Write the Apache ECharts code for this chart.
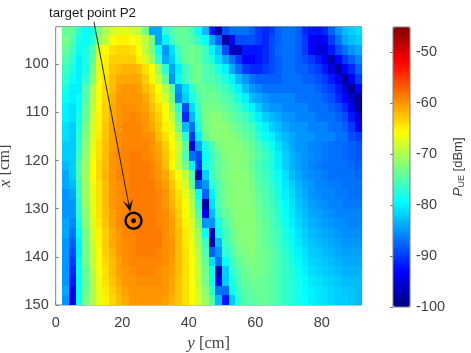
<!DOCTYPE html>
<html>
<head>
<meta charset="utf-8">
<script src="https://cdn.jsdelivr.net/npm/echarts@6/dist/echarts.min.js"></script>
<style>
html, body { margin: 0; padding: 0; background: #fff; }
#main { width: 471px; height: 353px; }
</style>
</head>
<body>
<div id="main"></div>
<script>
// cell centres, cm
var yCm = [3, 5, 7, 9, 11, 13, 15, 17, 19, 21, 23, 25, 27, 29, 31, 33, 35, 37, 39, 41, 43, 45, 47, 49, 51, 53, 55, 57, 59, 61, 63, 65, 67, 69, 71, 73, 75, 77, 79, 81, 83, 85, 87, 89, 91];
var xCm = [93, 95, 97, 99, 101, 103, 105, 107, 109, 111, 113, 115, 117, 119, 121, 123, 125, 127, 129, 131, 133, 135, 137, 139, 141, 143, 145, 147, 149];

// received power per row (one row per xCm), dBm
var pueRows = [
    [-74, -74, -77, -79, -78, -73, -70, -68, -67, -67, -68, -69, -73, -84, -84, -77, -75, -74, -74, -76, -79, -83, -92, -98, -89, -87, -87, -87, -88, -90, -91, -90, -88, -87, -87, -88, -91, -92, -92, -91, -88, -85, -83, -82, -81],
    [-73, -75, -78, -79, -77, -72, -69, -66, -65, -65, -66, -67, -69, -73, -84, -80, -76, -74, -74, -75, -77, -79, -84, -88, -98, -93, -89, -89, -89, -90, -91, -89, -88, -87, -87, -88, -90, -93, -94, -93, -90, -87, -84, -83, -82],
    [-74, -76, -79, -78, -75, -68, -65.5, -64, -63.5, -63.5, -64, -65.5, -69, -73, -79, -85, -81, -76, -74, -73, -74, -76, -80, -83, -89, -97, -97, -92, -92, -92, -91, -89, -87.5, -87, -87, -88, -90, -93, -95, -95, -92, -89, -87, -85, -84],
    [-75, -77, -80, -78, -74, -67, -65, -63, -63, -63, -63, -65, -67.5, -71, -77, -84, -82, -77, -74, -73, -74, -76, -78, -81, -84, -87, -90, -93, -93, -92, -91, -89, -88, -87, -87, -88, -89, -90, -92, -94, -97, -93, -90, -88, -86],
    [-76, -78, -80, -78, -73, -67, -64.5, -62.5, -62, -61.5, -61.5, -62, -64, -65.5, -71, -77, -84, -80, -76, -74, -73, -75, -76, -78, -80, -84, -87, -90, -91, -91, -90, -89, -88, -87, -87, -88, -88, -89, -90, -92, -95, -98, -93, -91, -88],
    [-77, -79, -80, -77, -72, -66.5, -64, -62, -61, -61, -61, -61, -63, -65.5, -69, -74, -85, -79, -76, -74, -73, -75, -75, -76, -78, -80, -83, -85, -87, -88, -88, -88, -88, -87, -87, -87, -88, -88, -89, -90, -92, -94, -98, -94, -90],
    [-78, -80, -80, -75, -70, -66, -63.5, -62, -60.5, -60, -60, -60.5, -62, -63.5, -66, -69.5, -75, -85, -81, -77, -74, -74, -74, -75, -76, -78, -80, -83, -85, -86, -87, -87, -87, -87, -87, -87, -87, -87, -88, -89, -90, -92, -95, -99, -93],
    [-79, -80, -79, -75, -69.5, -66, -63.5, -61.5, -60, -60, -60, -60, -61, -63, -65, -68, -73, -86, -82, -78, -75, -74, -73, -74, -75, -76, -78, -80, -83, -84, -85, -86, -86, -86, -86, -87, -87, -87, -87, -88, -89, -91, -93, -96, -99],
    [-80, -81, -79, -74, -69, -65.5, -63, -61, -60, -59.5, -59.5, -60, -60.5, -62, -64, -66, -71, -77, -89, -81, -76, -73, -73, -73, -74, -75, -76, -78, -80, -82, -84, -85, -85, -86, -86, -86, -86, -87, -87, -87, -88, -89, -91, -94, -99],
    [-80, -81, -78, -74, -68.5, -65, -63, -61, -60, -59.5, -59, -59.5, -60, -61.5, -63, -65.5, -69, -75, -91, -83, -77, -73, -72, -72, -73, -74, -75, -76, -78, -80, -82, -83, -84, -85, -85, -86, -86, -86, -87, -87, -87, -88, -89, -92, -96],
    [-81, -82, -78, -73, -68, -65, -62.5, -60.5, -60, -59, -59, -59, -60, -61, -62.5, -65, -67.5, -73, -83, -87, -78, -73, -72, -72, -72, -73, -74, -75, -76, -78, -80, -82, -83, -84, -85, -85, -85, -86, -86, -86, -87, -87, -88, -90, -94],
    [-81, -82, -77, -72.5, -67.5, -64.5, -62.5, -60.5, -59.5, -59, -59, -59, -59.5, -60, -62, -64, -66.5, -70, -77, -90, -80, -74, -72, -72, -72, -72, -73, -74, -75, -77, -79, -80, -82, -83, -84, -85, -85, -85, -86, -86, -86, -87, -87, -89, -90],
    [-82, -82, -77, -72, -67, -64, -62, -60.5, -59.5, -59, -59, -59, -59, -60, -61, -63, -65.5, -68.5, -74, -95, -84, -78, -75, -73, -72, -72, -72, -73, -74, -75.5, -77, -79, -81, -82.5, -84, -85, -85, -86, -86, -86.5, -87, -87, -87.5, -88, -88.5],
    [-82, -82, -76, -71.5, -66.5, -64, -62, -60, -59, -59, -58.5, -58.5, -59, -59.5, -60.5, -62.5, -65, -69, -75, -87, -89, -79, -76, -74, -72.5, -72, -72, -72.5, -73.5, -75, -76, -78, -80, -82, -83.5, -84.5, -85, -85.5, -86, -86.5, -87, -87, -87.5, -88, -88.5],
    [-83, -82, -75, -71, -66, -63.5, -62, -60, -59.5, -59, -58.5, -58.5, -58.5, -59, -60, -62, -65.5, -69, -73, -80, -90, -78, -76, -74, -73, -72, -72, -72.5, -74, -75.5, -76.5, -78, -80, -82, -83.5, -84.5, -85, -86, -86.5, -87, -87, -87, -87, -87.5, -88],
    [-84, -82, -75, -71, -66, -63.5, -61.5, -60, -59, -59, -58.5, -58.5, -58.5, -59, -60, -61, -63.5, -66, -69, -75, -97, -82, -76, -74, -72.5, -72, -72, -72, -73.5, -75, -76, -77.5, -79, -81, -83, -84, -85, -85.5, -86, -86.5, -87, -87, -87, -87, -87.5],
    [-84, -83, -76, -71, -66.5, -64, -62, -60, -59.5, -59, -58.5, -58.5, -58.5, -58.5, -59.5, -60.5, -62.5, -65, -68, -74, -88, -85, -77, -75, -73, -72, -72, -72, -73, -74.5, -75.5, -77, -78.5, -80.5, -82, -83.5, -84.5, -85, -86, -86, -86.5, -86.5, -87, -87, -87],
    [-85, -84, -76, -71, -67, -64, -62, -60, -59.5, -59, -58.5, -58.5, -58.5, -58.5, -59, -60, -62, -64, -67, -71, -79, -88, -80, -75, -73, -72, -72, -72, -72.5, -74, -75, -76.5, -78, -80, -81.5, -83, -84, -85, -85.5, -86, -86, -86.5, -86.5, -87, -87],
    [-85, -85, -77, -71, -67, -64, -62, -60, -59.5, -59, -58.5, -58.5, -58.5, -58.5, -59, -60, -61.5, -63.5, -66, -70, -77, -98, -81, -75, -73, -72, -72, -72, -72.5, -73.5, -75, -76, -77.5, -79.5, -81, -82.5, -83.5, -84.5, -85, -85.5, -86, -86, -86.5, -86.5, -86.5],
    [-85, -85, -77, -72, -67, -64, -62, -60.5, -59.5, -59, -58.5, -58.5, -58.5, -58.5, -59, -59.5, -61, -63, -65.5, -69, -75, -94, -83, -76, -74, -72.5, -72, -72, -72, -73.5, -74.5, -75.5, -77, -79, -80.5, -82, -83, -84, -84.5, -85, -85.5, -86, -86, -86, -86],
    [-84, -86, -78, -72, -67.5, -64.5, -62.5, -60.5, -59.5, -59, -58.5, -58.5, -58.5, -58.5, -59, -59.5, -60.5, -62.5, -65, -68, -73, -85, -85, -78, -75, -73, -72, -72, -72, -73, -74, -75.5, -76.5, -78.5, -80, -81.5, -82.5, -83.5, -84, -84.5, -85, -85.5, -85.5, -86, -86],
    [-84, -87, -79, -73, -68, -65, -63, -61, -60, -59, -59, -58.5, -58.5, -58.5, -58.5, -59.5, -60.5, -62, -64.5, -67.5, -71, -79, -96, -79, -76, -73.5, -72.5, -72, -72, -73, -74, -75, -76, -78, -79.5, -81, -82, -83, -83.5, -84, -84.5, -85, -85.5, -85.5, -85.5],
    [-85, -88, -80, -73, -68.5, -65, -63, -61, -60, -59.5, -59, -58.5, -58.5, -58.5, -58.5, -59.5, -60, -62, -64.5, -67, -71, -76, -98, -83, -76, -74, -72.5, -72, -72, -73, -74, -75, -76, -77.5, -79, -80.5, -81.5, -82.5, -83, -83.5, -84, -84.5, -85, -85, -85],
    [-85, -89, -80, -73, -69, -65.5, -63, -61.5, -60, -59.5, -59, -58.5, -58.5, -58.5, -59, -59.5, -60, -62, -64, -66.5, -70, -75, -88, -85, -77, -75, -73, -72.5, -72, -73, -73.5, -74.5, -75.5, -77, -78.5, -80, -81, -82, -82.5, -83, -83.5, -84, -84.5, -84.5, -84.5],
    [-85, -90, -79, -73, -69, -66, -63.5, -62, -60.5, -59.5, -59, -59, -59, -59, -59, -59.5, -60.5, -62, -64, -66, -69.5, -74, -81, -87, -79, -76, -74, -73, -72.5, -73, -73.5, -74.5, -75.5, -76.5, -78, -79.5, -80.5, -81.5, -82, -82.5, -83, -83.5, -84, -84, -84],
    [-85, -91, -79, -74, -69.5, -66, -64, -62, -60.5, -60, -59.5, -59, -59, -59, -59.5, -60, -60.5, -62, -64, -66, -69, -73, -79, -98, -82, -77, -75, -73.5, -73, -73, -73.5, -74.5, -75.5, -76.5, -77.5, -79, -80, -81, -81.5, -82, -82.5, -83, -83.5, -83.5, -83.5],
    [-85, -92, -79, -74, -70, -66.5, -64, -62.5, -61, -60, -60, -59.5, -59.5, -59.5, -59.5, -60, -61, -62.5, -64, -66, -69, -73, -78, -94, -82, -78, -75.5, -74, -73.5, -73.5, -74, -74.5, -75.5, -76.5, -77.5, -78.5, -79.5, -80.5, -81, -81.5, -82, -82.5, -83, -83, -83],
    [-84, -94, -79, -74, -70, -67, -64.5, -63, -61.5, -60.5, -60, -60, -60, -60, -60, -60, -61, -62.5, -64, -65.5, -68.5, -72, -77, -87, -87, -79, -76, -74.5, -74, -73.5, -74, -74.5, -75.5, -76.5, -77.5, -78.5, -79.5, -80, -80.5, -81, -81.5, -82, -82.5, -82.5, -83],
    [-85, -94, -79, -73, -70, -67, -65, -63.5, -62, -61, -60, -60, -60, -60, -60, -60.5, -61.5, -62.5, -64, -65.5, -68, -71, -75, -83, -92, -82, -77, -75, -74.5, -74, -74, -74.5, -75.5, -76.5, -77.5, -78.5, -79, -80, -80.5, -81, -81.5, -82, -82, -82.5, -83]
];

var xTicks = [100, 110, 120, 130, 140, 150];
var yTicks = [0, 20, 40, 60, 80];
var barTicks = [-100, -90, -80, -70, -60, -50];
var jetColors = ['#00007f', '#0000ff', '#007fff', '#00ffff', '#7fff7f', '#ffff00', '#ff7f00', '#ff0000', '#7f0000'];

// annotation, [y, x] in cm
var targetPoint = [23.4, 132.5];
var arrowStart = [11.5, 91.2];
var arrowEnd = [22.4, 130.7];
var targetLabel = 'target point P2';

var cells = [];
for (var r = 0; r < xCm.length; r++) {
    for (var c = 0; c < yCm.length; c++) {
        cells.push([yCm[c], xCm[r], pueRows[r][c]]);
    }
}

function renderCell(params, api) {
    var a = api.coord([api.value(0) - 1, api.value(1) - 1]);
    var b = api.coord([api.value(0) + 1, api.value(1) + 1]);
    // round the edges so neighbouring cells leave no seams
    var x0 = Math.round(a[0]), y0 = Math.round(a[1]);
    return {
        type: 'rect',
        shape: { x: x0, y: y0, width: Math.round(b[0]) - x0, height: Math.round(b[1]) - y0 },
        style: { fill: api.visual('color') }
    };
}

function renderTarget(params, api) {
    var from = api.coord(arrowStart);
    var to = api.coord(arrowEnd);
    var mid = api.coord(targetPoint);
    var ang = Math.atan2(to[1] - from[1], to[0] - from[0]);
    var ux = Math.cos(ang), uy = Math.sin(ang);
    return {
        type: 'group',
        children: [
            { type: 'line', shape: { x1: from[0], y1: from[1], x2: to[0] - ux * 6, y2: to[1] - uy * 6 }, style: { stroke: '#111', lineWidth: 0.9 } },
            {
                type: 'polygon',
                shape: {
                    points: [
                        [to[0], to[1]],
                        [to[0] - ux * 12 - uy * 5, to[1] - uy * 12 + ux * 5],
                        [to[0] - ux * 7, to[1] - uy * 7],
                        [to[0] - ux * 12 + uy * 5, to[1] - uy * 12 - ux * 5]
                    ]
                },
                style: { fill: '#111' }
            },
            { type: 'circle', shape: { cx: mid[0], cy: mid[1], r: 8 }, style: { fill: 'none', stroke: '#000', lineWidth: 2.4 } },
            { type: 'circle', shape: { cx: mid[0], cy: mid[1], r: 2.4 }, style: { fill: '#000' } },
            {
                type: 'text',
                style: { x: from[0] - 45, y: from[1] - 8.5, text: targetLabel, fill: '#1a1a1a', font: '13.4px "Liberation Sans"', textVerticalAlign: 'middle' }
            }
        ]
    };
}

var myChart = echarts.init(document.getElementById('main'));

var option = {
    animation: false,
    backgroundColor: '#fff',
    textStyle: { fontFamily: 'Liberation Sans' },
    grid: [
        { left: 55.7, top: 26.7, width: 306, height: 278.3, show: true, borderColor: '#808080', borderWidth: 1, outerBoundsMode: 'none' },
        { left: 393, top: 27, width: 17, height: 280, show: true, z: 10, backgroundColor: 'transparent', borderColor: '#808080', borderWidth: 1, outerBoundsMode: 'none' }
    ],
    xAxis: [
        {
            type: 'value', gridIndex: 0, min: 0, max: 92,
            splitLine: { show: false },
            axisLine: { show: false },
            axisTick: { inside: true, length: 3, lineStyle: { color: '#808080' }, customValues: yTicks },
            axisLabel: { fontSize: 14.5, color: '#404040', margin: 10, customValues: yTicks },
            name: '{i|y} [cm]',
            nameLocation: 'middle',
            nameGap: 29,
            nameTextStyle: {
                fontFamily: 'Liberation Serif', fontSize: 16.5, color: '#444',
                rich: { i: { fontFamily: 'Liberation Serif', fontStyle: 'italic', fontSize: 17, color: '#444' } }
            }
        },
        { type: 'value', gridIndex: 1, min: 0, max: 1, show: false }
    ],
    yAxis: [
        {
            type: 'value', gridIndex: 0, inverse: true, min: 92.2, max: 150,
            splitLine: { show: false },
            axisLine: { show: false },
            axisTick: { inside: true, length: 3, lineStyle: { color: '#808080' }, customValues: xTicks },
            axisLabel: { fontSize: 14.5, color: '#404040', margin: 7, customValues: xTicks },
            name: '{i|x} [cm]',
            nameLocation: 'middle',
            nameGap: 30,
            nameRotate: 90,
            nameTextStyle: {
                fontFamily: 'Liberation Serif', fontSize: 16.5, color: '#444',
                rich: { i: { fontFamily: 'Liberation Serif', fontStyle: 'italic', fontSize: 17, color: '#444' } }
            }
        },
        {
            type: 'value', gridIndex: 1, position: 'right', min: -100, max: -45, z: 11,
            splitLine: { show: false },
            axisLine: { show: false },
            axisTick: { inside: true, length: 3, lineStyle: { color: '#808080' }, customValues: barTicks },
            axisLabel: { fontSize: 14.5, color: '#404040', margin: 6, customValues: barTicks },
            name: '{p|P}{s|UE} [dBm]',
            nameLocation: 'middle',
            nameGap: 41,
            nameRotate: 90,
            nameTextStyle: {
                fontSize: 13, color: '#404040',
                rich: {
                    p: { fontStyle: 'italic', fontSize: 13.5, color: '#404040' },
                    s: { fontSize: 9, color: '#404040', verticalAlign: 'bottom', padding: [6, 0, 0, 0] }
                }
            }
        }
    ],
    visualMap: {
        type: 'continuous',
        seriesIndex: 0,
        dimension: 2,
        min: -100,
        max: -45,
        calculable: false,
        show: true,
        text: null,
        showLabel: false,
        padding: 0,
        left: 393,
        top: 27,
        itemWidth: 17,
        itemHeight: 280,
        inRange: { color: jetColors }
    },
    series: [
        {
            type: 'custom',
            coordinateSystem: 'cartesian2d',
            xAxisIndex: 0,
            yAxisIndex: 0,
            encode: { x: 0, y: 1 },
            data: cells,
            clip: true,
            renderItem: renderCell,
            silent: true
        },
        {
            type: 'custom',
            coordinateSystem: 'cartesian2d',
            xAxisIndex: 0,
            yAxisIndex: 0,
            z: 5,
            data: [targetPoint],
            renderItem: renderTarget,
            silent: true
        }
    ]
};

myChart.setOption(option);
</script>
</body>
</html>
